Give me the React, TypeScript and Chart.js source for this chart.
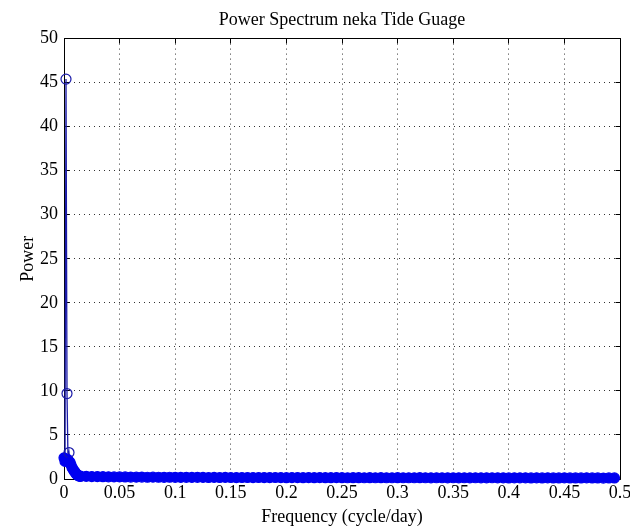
import React, { useEffect, useRef } from "react";
import { Chart, registerables } from "chart.js";

Chart.register(...registerables);

const chartTitle = "Power Spectrum neka Tide Guage";
const xAxisTitle = "Frequency (cycle/day)";
const yAxisTitle = "Power";

const xTicks = [0, 0.05, 0.1, 0.15, 0.2, 0.25, 0.3, 0.35, 0.4, 0.45, 0.5];
const xTickLabels = ["0", "0.05", "0.1", "0.15", "0.2", "0.25", "0.3", "0.35", "0.4", "0.45", "0.5"];
const yTicks = [0, 5, 10, 15, 20, 25, 30, 35, 40, 45, 50];
const yTickLabels = ["0", "5", "10", "15", "20", "25", "30", "35", "40", "45", "50"];

// low-frequency part of the spectrum (fine resolution)
const lowFreq = [0, 0.0009, 0.0018, 0.0027, 0.0036, 0.0045, 0.0054, 0.0063, 0.0072, 0.0081, 0.009, 0.0099, 0.0108, 0.0117, 0.0126, 0.0135, 0.0144];
const lowPower = [2.4, 2.0, 45.4, 9.7, 2.2, 3.0, 1.9, 1.6, 1.3, 1.1, 0.9, 0.8, 0.6, 0.5, 0.4, 0.35, 0.3];

// rest of the spectrum (flat, near zero)
const tailFreq = [
  0.015, 0.02, 0.025, 0.03, 0.035, 0.04, 0.045, 0.05, 0.055, 0.06,
  0.065, 0.07, 0.075, 0.08, 0.085, 0.09, 0.095, 0.1, 0.105, 0.11,
  0.115, 0.12, 0.125, 0.13, 0.135, 0.14, 0.145, 0.15, 0.155, 0.16,
  0.165, 0.17, 0.175, 0.18, 0.185, 0.19, 0.195, 0.2, 0.205, 0.21,
  0.215, 0.22, 0.225, 0.23, 0.235, 0.24, 0.245, 0.25, 0.255, 0.26,
  0.265, 0.27, 0.275, 0.28, 0.285, 0.29, 0.295, 0.3, 0.305, 0.31,
  0.315, 0.32, 0.325, 0.33, 0.335, 0.34, 0.345, 0.35, 0.355, 0.36,
  0.365, 0.37, 0.375, 0.38, 0.385, 0.39, 0.395, 0.4, 0.405, 0.41,
  0.415, 0.42, 0.425, 0.43, 0.435, 0.44, 0.445, 0.45, 0.455, 0.46,
  0.465, 0.47, 0.475, 0.48, 0.485, 0.49, 0.495,
];
const tailPower = [
  0.32, 0.3, 0.28, 0.27, 0.26, 0.25, 0.24, 0.24, 0.23, 0.22,
  0.21, 0.22, 0.2, 0.21, 0.2, 0.19, 0.2, 0.19, 0.18, 0.19,
  0.18, 0.19, 0.18, 0.17, 0.18, 0.17, 0.18, 0.17, 0.16, 0.17,
  0.17, 0.16, 0.17, 0.16, 0.16, 0.17, 0.16, 0.15, 0.16, 0.16,
  0.15, 0.16, 0.15, 0.16, 0.15, 0.15, 0.16, 0.15, 0.14, 0.15,
  0.15, 0.14, 0.15, 0.14, 0.15, 0.14, 0.14, 0.15, 0.14, 0.14,
  0.14, 0.15, 0.14, 0.13, 0.14, 0.14, 0.13, 0.14, 0.13, 0.14,
  0.13, 0.14, 0.13, 0.13, 0.14, 0.13, 0.13, 0.12, 0.13, 0.13,
  0.13, 0.12, 0.13, 0.12, 0.13, 0.12, 0.12, 0.13, 0.12, 0.12,
  0.12, 0.13, 0.12, 0.12, 0.11, 0.12, 0.12,
];

const SERIF = '"Liberation Serif", "Times New Roman", Times, serif';
const LINE_COLOR = "#1a1aa8";
const BAND_COLOR = "#0000f0";

const align = (p: number) => Math.round(p - 0.5) + 0.5;

const matlabAxes = {
  id: "matlabAxes",
  beforeDatasetsDraw(chart: any) {
    const { ctx, chartArea: a, scales } = chart;
    const xs = scales.x;
    const ys = scales.y;
    const L = align(a.left);
    const R = align(a.right);
    const T = align(a.top);
    const B = align(a.bottom);
    const tl = 5;
    ctx.save();
    ctx.setLineDash([]);
    ctx.strokeStyle = "#000";
    ctx.lineWidth = 1;
    ctx.beginPath();
    ctx.rect(L, T, R - L, B - T);
    for (const v of xTicks) {
      const px = align(xs.getPixelForValue(v));
      ctx.moveTo(px, T);
      ctx.lineTo(px, T + tl);
      ctx.moveTo(px, B);
      ctx.lineTo(px, B - tl);
    }
    for (const v of yTicks) {
      const py = align(ys.getPixelForValue(v));
      ctx.moveTo(L, py);
      ctx.lineTo(L + tl, py);
      ctx.moveTo(R, py);
      ctx.lineTo(R - tl, py);
    }
    ctx.stroke();
    ctx.restore();
  },
};

export default function App() {
  const ref = useRef<HTMLCanvasElement | null>(null);

  useEffect(() => {
    document.body.style.margin = "0";
    const lowPts = lowFreq.map((f, i) => ({ x: f, y: lowPower[i] }));
    const tailPts = tailFreq.map((f, i) => ({ x: f, y: tailPower[i] }));
    const data = [...lowPts, ...tailPts];
    // small low-frequency markers overlap into a solid cluster; prominent peaks stay hollow
    const isHollow = (p: { y: number }) => p.y >= 2.8;
    const borderColors = [...lowPts.map((p) => (isHollow(p) ? LINE_COLOR : BAND_COLOR)), ...tailPts.map(() => BAND_COLOR)];
    const bgColors = [...lowPts.map((p) => (isHollow(p) ? "rgba(0,0,0,0)" : BAND_COLOR)), ...tailPts.map(() => BAND_COLOR)];

    const tickFont = { family: SERIF, size: 18, weight: "normal" as const };

    const chart = new Chart(ref.current as HTMLCanvasElement, {
      type: "line",
      data: {
        datasets: [
          {
            data,
            borderColor: LINE_COLOR,
            borderWidth: 1.3,
            pointRadius: 5,
            pointHoverRadius: 5,
            pointBorderWidth: 1.2,
            pointBorderColor: borderColors,
            pointBackgroundColor: bgColors,
            tension: 0,
            fill: false,
            clip: false as any,
          },
        ],
      },
      options: {
        responsive: false,
        animation: false,
        events: [],
        layout: { padding: { left: 0, right: 10, top: 0, bottom: 0 } },
        plugins: {
          legend: { display: false },
          tooltip: { enabled: false },
          title: {
            display: true,
            text: chartTitle,
            fullSize: false,
            color: "#000",
            font: { family: SERIF, size: 18, weight: "normal" },
            padding: { top: 9, bottom: 8 },
          },
        },
        scales: {
          x: {
            type: "linear",
            min: 0,
            max: 0.5,
            afterBuildTicks: (s: any) => {
              s.ticks = xTicks.map((v) => ({ value: v }));
            },
            afterFit: (s: any) => {
              s.height = 51;
              s.paddingRight = 10;
              s.paddingLeft = 0;
            },
            ticks: {
              callback: (_v: any, i: number) => xTickLabels[i],
              color: "#000",
              font: tickFont,
              padding: 3,
              maxRotation: 0,
              autoSkip: false,
            },
            grid: { color: "#333", lineWidth: 1, drawTicks: false },
            border: { display: false, dash: [1, 4] },
            title: {
              display: true,
              text: xAxisTitle,
              color: "#000",
              font: tickFont,
              padding: { top: 0, bottom: 2 },
            },
          },
          y: {
            type: "linear",
            min: 0,
            max: 50,
            afterBuildTicks: (s: any) => {
              s.ticks = yTicks.map((v) => ({ value: v }));
            },
            afterFit: (s: any) => {
              s.width = 64;
            },
            ticks: {
              callback: (_v: any, i: number) => yTickLabels[i],
              color: "#000",
              font: tickFont,
              padding: 6,
            },
            grid: { color: "#333", lineWidth: 1, drawTicks: false },
            border: { display: false, dash: [1, 4] },
            title: {
              display: true,
              text: yAxisTitle,
              color: "#000",
              font: tickFont,
              padding: { top: 17, bottom: 0 },
            },
          },
        },
      },
      plugins: [matlabAxes],
    } as any);

    return () => chart.destroy();
  }, []);

  return (
    <div style={{ width: 630, height: 530 }}>
      <canvas ref={ref} width={630} height={530} style={{ display: "block" }} />
    </div>
  );
}
